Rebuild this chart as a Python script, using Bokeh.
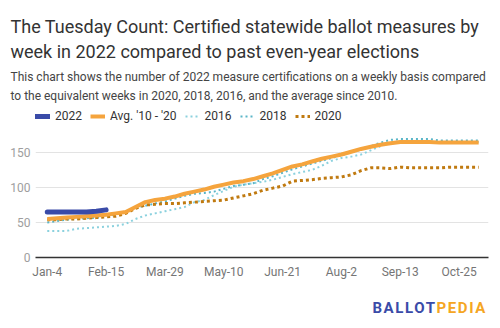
from bokeh.plotting import figure
from bokeh.models import Legend, LegendItem, FixedTicker, Range1d, Title, Div
from bokeh.layouts import column
from bokeh.embed import file_html
from bokeh.resources import INLINE

weeks = list(range(45))
tick_weeks = [0, 6, 12, 18, 24, 30, 36, 42]
tick_labels = ["Jan-4", "Feb-15", "Mar-29", "May-10", "Jun-21", "Aug-2", "Sep-13", "Oct-25"]

y2022 = [65, 65, 65, 65, 65, 66, 68]
avg = [55, 56, 57, 58, 59, 60, 61, 63, 65, 72, 79, 82, 84, 87, 91, 94, 97, 101, 104, 107,
       109, 112, 116, 120, 125, 130, 133, 137, 141, 144, 147, 151, 155, 158, 161, 163, 165,
       165, 165, 165, 164, 164, 164, 164, 164]
y2016 = [38, 38, 38, 41, 42, 43, 44, 45, 48, 55, 60, 63, 66, 69, 72, 79, 82, 89, 95, 101,
         104, 106, 108, 111, 115, 119, 122, 125, 131, 138, 142, 144, 147, 153, 159, 164, 165,
         165, 165, 165, 165, 165, 165, 165, 165]
y2018 = [50, 52, 54, 55, 56, 57, 58, 62, 66, 71, 74, 77, 80, 84, 88, 91, 92, 94, 98, 102,
         104, 106, 112, 116, 121, 126, 130, 134, 138, 142, 146, 150, 154, 159, 164, 168, 169,
         169, 169, 169, 167, 167, 167, 167, 167]
y2020 = [54, 54, 55, 55, 56, 57, 58, 59, 63, 70, 75, 76, 77, 77, 78, 79, 80, 81, 82, 85,
         88, 91, 96, 99, 102, 109, 110, 111, 113, 114, 115, 118, 124, 128, 128, 127, 129,
         128, 128, 128, 128, 129, 129, 129, 129]

title_text = "The Tuesday Count: Certified statewide ballot measures by\nweek in 2022 compared to past even-year elections"
subtitle_text = ("This chart shows the number of 2022 measure certifications on a weekly basis compared\n"
                 "to the equivalent weeks in 2020, 2018, 2016, and the average since 2010.")

FONT = "Roboto"

# frame spans canvas y 105..257; 0.7 px per unit -> top of range at 152/0.7
p = figure(width=500, height=300, output_backend="svg", toolbar_location=None, title=None,
           x_range=Range1d(-1.2, 45.0), y_range=Range1d(0, 217), margin=0,
           min_border_left=35, min_border_right=12, min_border_top=105, min_border_bottom=43)
p.outline_line_color = None

p.xaxis.ticker = FixedTicker(ticks=tick_weeks)
p.xaxis.major_label_overrides = {w: l for w, l in zip(tick_weeks, tick_labels)}
p.xaxis.major_tick_line_color = None
p.xaxis.major_tick_out = 0
p.xaxis.major_tick_in = 0
p.xaxis.minor_tick_line_color = None
p.xaxis.axis_line_color = "#333333"
p.xaxis.axis_line_width = 1.5
p.xaxis.major_label_text_font = FONT
p.xaxis.major_label_text_font_size = "12px"
p.xaxis.major_label_text_color = "#757575"
p.xaxis.major_label_standoff = 7

p.yaxis.ticker = FixedTicker(ticks=[0, 50, 100, 150])
p.yaxis.axis_line_color = None
p.yaxis.major_tick_line_color = None
p.yaxis.major_tick_out = 0
p.yaxis.major_tick_in = 0
p.yaxis.minor_tick_line_color = None
p.yaxis.major_label_text_font = FONT
p.yaxis.major_label_text_font_size = "12px"
p.yaxis.major_label_text_color = "#9e9e9e"
p.yaxis.major_label_standoff = 5

p.xgrid.grid_line_color = None
p.ygrid.grid_line_color = "#e3e3e3"
p.ygrid.grid_line_width = 1

r2016 = p.line(weeks, y2016, line_color="#8bd1de", line_width=2, line_dash="2 3")
r2018 = p.line(weeks, y2018, line_color="#5ab6c8", line_width=2, line_dash="2 3")
r2020 = p.line(weeks, y2020, line_color="#c07a10", line_width=3, line_dash="3 3")
ravg = p.line(weeks, avg, line_color="#f5a43d", line_width=4, line_join="round")
r2022 = p.line(weeks[:len(y2022)], y2022, line_color="#3a4ba8", line_width=5,
               line_cap="round", line_join="round")

legend = Legend(items=[
    LegendItem(label="2022", renderers=[r2022]),
    LegendItem(label="Avg. '10 - '20", renderers=[ravg]),
    LegendItem(label="2016", renderers=[r2016]),
    LegendItem(label="2018", renderers=[r2018]),
    LegendItem(label="2020", renderers=[r2020]),
], orientation="horizontal", location=(0, 134), padding=0, margin=0, spacing=8,
    glyph_width=15, glyph_height=12, label_height=12, label_standoff=5,
    label_text_font=FONT, label_text_font_size="12px", label_text_color="#333333",
    border_line_color=None, background_fill_alpha=0)
p.add_layout(legend, "center")

p.add_layout(Title(text=subtitle_text, text_font=FONT, text_font_size="12px", text_color="#444444",
                   text_font_style="normal", text_line_height=1.42, align="left", offset=-25,
                   standoff=0, vertical_align="top"), "above")
p.add_layout(Title(text=title_text, text_font=FONT, text_font_size="18px", text_color="#333333",
                   text_font_style="normal", text_line_height=1.22, align="left", offset=-25,
                   standoff=14, vertical_align="bottom"), "above")

logo = Div(width=500, height=28, margin=0, text=(
    '<div style="position:relative;width:500px;height:28px;font-family:Roboto;">'
    '<div style="position:absolute;right:13px;top:0.5px;font-size:15px;line-height:15px;'
    'font-weight:bold;letter-spacing:1.6px;white-space:nowrap;">'
    '<span style="color:#3a4ba8;">BALLOT</span><span style="color:#f5a623;">PEDIA</span>'
    '</div></div>'))

layout = column(p, logo, spacing=0, margin=0)
open("out.html", "w").write(file_html(layout, INLINE))
